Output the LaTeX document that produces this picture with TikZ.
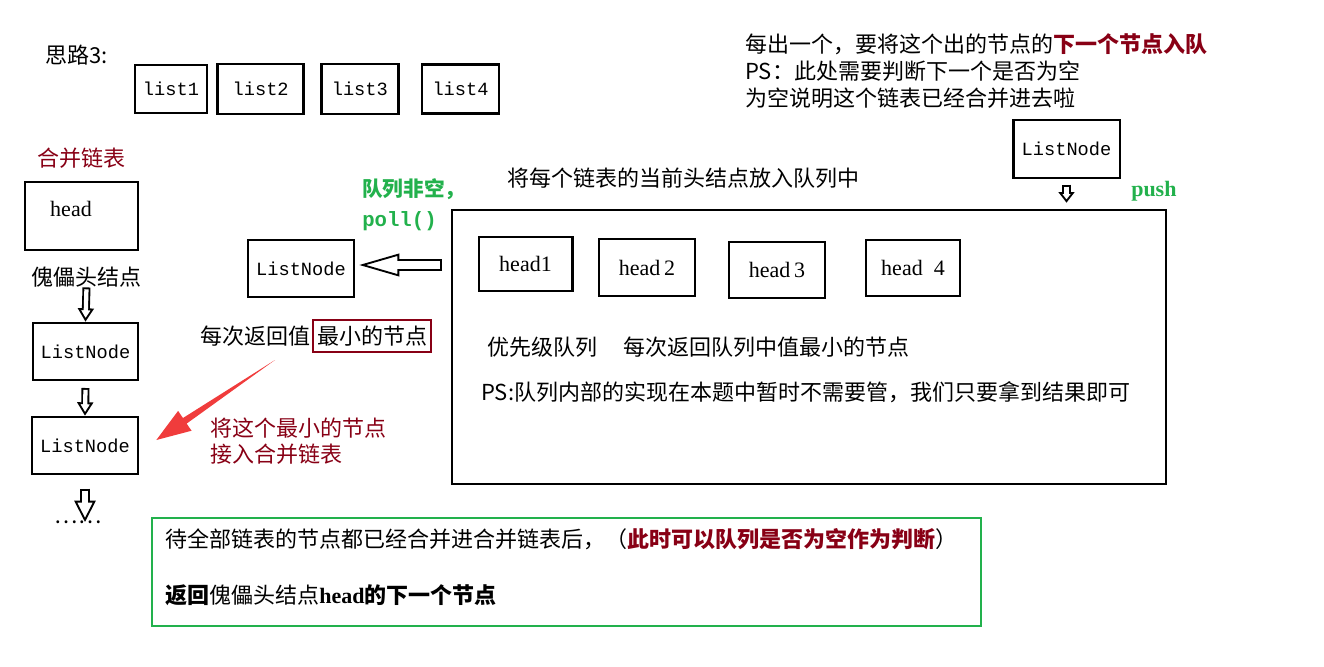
\documentclass[tikz,border=0pt]{standalone}
\usepackage{fontspec}
\setmainfont{Noto Sans CJK SC}
\setmonofont{Liberation Mono}
\newfontfamily\latinserif{Liberation Serif}
\usepackage{tikz}
\usetikzlibrary{arrows.meta,positioning,calc}
\definecolor{maroon}{RGB}{136,0,21}
\definecolor{paintgreen}{RGB}{34,177,76}
\definecolor{arrowred}{RGB}{240,60,60}
\newcommand\hollowarr[5]{%
  \draw[line width=#1, -{Triangle[open, length=#3, width=#2, line width=1.4pt]}] #4 -- #5;
  \draw[white, line width=#1-2.8pt, shorten <=1.4pt, shorten >=#3-2pt] #4 -- #5;}

\begin{document}
\begin{tikzpicture}[x=0.75pt, y=-0.75pt,
  box/.style={draw, line width=2pt, inner sep=0pt},
  mono/.style={font=\fontsize{14}{16}\selectfont\ttfamily},
  cn/.style={font=\fontsize{16.5}{20}\selectfont, inner sep=0pt},
  headtxt/.style={font=\fontsize{16.5}{20}\selectfont\latinserif}]
\useasboundingbox (0,0) rectangle (1324,667);

\node[cn, anchor=west] (idea) at (45,55) {思路3:};
\node[box, mono, minimum width=54pt, minimum height=36pt] (list1) at (171,89) {list1};
\node[box, mono, right=6pt of list1, minimum width=64.5pt, minimum height=37.5pt] (list2) {list2};
\node[box, mono, right=11.25pt of list2, minimum width=57.75pt, minimum height=37.5pt] (list3) {list3};
\node[box, mono, right=15.75pt of list3, minimum width=57.75pt, minimum height=37pt] (list4) {list4};

\node[cn, anchor=west, align=left, font=\fontsize{16.5}{20.25}\selectfont] (note) at (745,71) {每出一个，要将这个出的节点的\textcolor{maroon}{\bfseries 下一个节点入队}\\PS：此处需要判断下一个是否为空\\为空说明这个链表已经合并进去啦};
\node[box, mono, minimum width=80pt, minimum height=43.5pt] (pushln) at (1066.5,149) {ListNode};
\node[anchor=west, inner sep=0pt, text=paintgreen, font=\fontsize{16.5}{20}\selectfont\latinserif\bfseries] (push) at (1131,191) {push};

\node[box, minimum width=535.5pt, minimum height=205.5pt] (queue) at (809,347) {};
\node[cn, anchor=west] (queuecap) at (507,178) {将每个链表的当前头结点放入队列中};
\node[box, headtxt, minimum width=70pt, minimum height=40.5pt] (head1) at (525.5,264) {head1};
\node[box, headtxt, minimum width=72pt, minimum height=42.75pt] (head2) at (647,267.5) {head\,2};
\node[box, headtxt, minimum width=72pt, minimum height=42pt] (head3) at (777,270) {head\,3};
\node[box, headtxt, minimum width=70.5pt, minimum height=42pt] (head4) at (913,268) {head\ \ 4};
\node[cn, anchor=west] (pq) at (487,347) {优先级队列\hspace{1.2em}每次返回队列中值最小的节点};
\node[cn, anchor=west] (psq) at (481,392) {PS:队列内部的实现在本题中暂时不需要管，我们只要拿到结果即可};

\node[box, mono, minimum width=79.5pt, minimum height=42.75pt] (midln) at (301,268.5) {ListNode};
\node[anchor=west, inner sep=0pt, align=left, text=paintgreen, font=\fontsize{15.5}{22.5}\selectfont\bfseries] (pollcap) at (362,205) {队列非空，\\\texttt{poll()}};
\node[box, cn, draw=maroon, minimum width=88.5pt, minimum height=24pt] (minbox) at (372,336) {最小的节点};
\node[cn, left=1pt of minbox] (minret) {每次返回值};
\node[cn, anchor=west, align=left, text=maroon, font=\fontsize{16.5}{19.5}\selectfont] (joincap) at (210,441) {将这个最小的节点\\接入合并链表};

\node[cn, anchor=west, text=maroon] (mergecap) at (37,158) {合并链表};
\node[box, minimum width=84.75pt, minimum height=51pt] (headbox) at (81.5,216) {};
\node[headtxt, inner sep=0pt] (headlbl) at (71,209) {head};
\node[cn] (dummylbl) at (86.5,277) {傀儡头结点};
\node[box, mono, minimum width=78.75pt, minimum height=42.75pt] (ln1) at (85.5,351.5) {ListNode};
\node[box, mono, minimum width=79.5pt, minimum height=42.75pt] (ln2) at (85,445.5) {ListNode};
\node[cn] (dots) at (78,522) {……};

\node[box, draw=paintgreen, minimum width=621.75pt, minimum height=81pt] (summary) at (566.5,572) {};
\node[cn, anchor=west] (sumline1) at (165,539) {待全部链表的节点都已经合并进合并链表后，（\textcolor{maroon}{\bfseries 此时可以队列是否为空作为判断}）};
\node[cn, anchor=west] (sumline2) at (165,595) {\textbf{返回}傀儡头结点\textbf{\latinserif head}\textbf{的下一个节点}};

\hollowarr{6pt}{12pt}{10pt}{(dummylbl.south)}{(ln1.north)}
\hollowarr{6pt}{12pt}{10pt}{([yshift=-5pt]ln1.south)}{(ln2.north)}
\hollowarr{8pt}{16pt}{16pt}{([yshift=-10pt]ln2.south)}{(ln2.south |- dots.center)}
\hollowarr{7pt}{12pt}{8pt}{([yshift=-4pt]pushln.south)}{($(pushln.south |- queue.north)+(0,-6)$)}
\coordinate (pollfrom) at (442,265);
\hollowarr{9pt}{17pt}{30pt}{(pollfrom)}{($(midln.east)+(4,-3.5)$)}

\coordinate (redtail) at (275,360);
\coordinate (redtip) at ($(ln2.east)+(17,-5.5)$);
\coordinate (redbase) at ($(redtip)!0.24!(redtail)$);
\fill[arrowred] (redtail) -- ($(redbase)!2.5pt!90:(redtail)$) -- ($(redbase)!9pt!90:(redtail)$) -- (redtip) -- ($(redbase)!9pt!-90:(redtail)$) -- ($(redbase)!2.5pt!-90:(redtail)$) -- cycle;
\end{tikzpicture}
\end{document}
